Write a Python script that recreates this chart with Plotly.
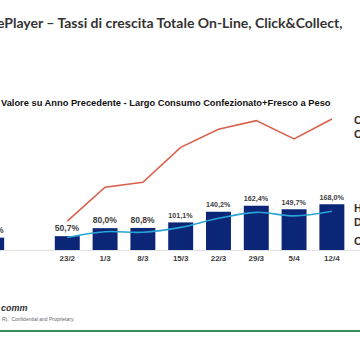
import plotly.graph_objects as go

categories = ["Total", " ", "23/2", "1/3", "8/3", "15/3", "22/3", "29/3", "5/4", "12/4"]
bar_values = [45.3, None, 50.7, 80.0, 80.8, 101.1, 140.2, 162.4, 149.7, 168.0]
click_collect = [None, None, 106, 230, 248, 376, 442, 474, 407, 480]
home_delivery = [None, None, 46, 67, 65, 83, 116, 138, 125, 142]

title_text = "ePlayer – Tassi di crescita Totale On-Line, Click&Collect,"
subtitle_text = "Valore su Anno Precedente - Largo Consumo Confezionato+Fresco a Peso"

W, H = 360, 360


def py(px):
    return 1 - px / H


def fmt(v):
    return "" if v is None else "<b>" + f"{v:.1f}".replace(".", ",") + "%</b>"


fig = go.Figure()
fig.add_trace(go.Bar(
    x=categories, y=bar_values,
    marker=dict(color="#0b2577", line=dict(width=0)),
    text=[fmt(v) for v in bar_values],
    textposition="outside",
    textfont=dict(family="Liberation Sans", size=9.3, color="#404040"),
    cliponaxis=True,
    hoverinfo="skip",
))
fig.add_trace(go.Scatter(
    x=categories, y=click_collect, mode="lines",
    line=dict(color="#d9604a", width=1.6),
    connectgaps=False, hoverinfo="skip",
))
fig.add_trace(go.Scatter(
    x=categories, y=home_delivery, mode="lines",
    line=dict(color="#2aa3d6", width=1.6, shape="spline", smoothing=1.0),
    connectgaps=False, hoverinfo="skip",
))

annotations = [
    dict(text="<b>" + title_text + "</b>", x=-5 / W, y=py(22), xref="paper", yref="paper",
         xanchor="left", yanchor="middle", showarrow=False,
         font=dict(family="Lato", size=14, color="#333333")),
    dict(text="<b>" + subtitle_text + "</b>", x=-1 / W, y=py(103), xref="paper", yref="paper",
         xanchor="left", yanchor="middle", showarrow=False,
         font=dict(family="Liberation Sans", size=9.3, color="#111111")),
    dict(text="<b>Total</b>", x=0, y=py(260), xref="x", yref="paper",
         xanchor="center", yanchor="middle", showarrow=False,
         font=dict(family="Liberation Sans", size=8, color="#404040")),
    dict(text="<b>Click &</b>", x=352 / W, y=py(120), xref="paper", yref="paper",
         xanchor="left", yanchor="middle", showarrow=False,
         font=dict(family="Liberation Sans", size=11, color="#333333")),
    dict(text="<b>Collect</b>", x=352 / W, y=py(134), xref="paper", yref="paper",
         xanchor="left", yanchor="middle", showarrow=False,
         font=dict(family="Liberation Sans", size=11, color="#333333")),
    dict(text="<b>Home</b>", x=352 / W, y=py(208), xref="paper", yref="paper",
         xanchor="left", yanchor="middle", showarrow=False,
         font=dict(family="Liberation Sans", size=11, color="#333333")),
    dict(text="<b>Delivery</b>", x=352 / W, y=py(222), xref="paper", yref="paper",
         xanchor="left", yanchor="middle", showarrow=False,
         font=dict(family="Liberation Sans", size=11, color="#333333")),
    dict(text="<b>On-Line</b>", x=352 / W, y=py(241), xref="paper", yref="paper",
         xanchor="left", yanchor="middle", showarrow=False,
         font=dict(family="Liberation Sans", size=11, color="#333333")),
    dict(text="<b><i>comm</i></b>", x=-1 / W, y=py(308), xref="paper", yref="paper",
         xanchor="left", yanchor="middle", showarrow=False,
         font=dict(family="Liberation Sans", size=9, color="#333333")),
    dict(text="R).  Confidential and Proprietary.", x=0, y=py(319), xref="paper", yref="paper",
         xanchor="left", yanchor="middle", showarrow=False,
         font=dict(family="Liberation Sans", size=5, color="#666666")),
]

fig.update_layout(
    width=W, height=H,
    margin=dict(l=0, r=0, t=0, b=0),
    paper_bgcolor="white", plot_bgcolor="white",
    showlegend=False,
    bargap=0.34,
    xaxis=dict(
        type="category", range=[0.22, 9.744], domain=[0, 1],
        showline=True, linecolor="#e3e3e3", linewidth=1,
        showgrid=False, zeroline=False, ticks="",
        tickvals=categories[2:], ticktext=["<b>" + c + "</b>" for c in categories[2:]],
        tickfont=dict(family="Liberation Sans", size=8, color="#404040"),
    ),
    yaxis=dict(
        range=[0, 549.5], domain=[py(250), py(100)],
        visible=False, showgrid=False, zeroline=False,
    ),
    annotations=annotations,
    shapes=[dict(type="line", xref="paper", yref="paper", x0=0, x1=1,
                 y0=py(331), y1=py(331), line=dict(color="#3d8b5c", width=2))],
)

fig.write_html("out.html", config={"displayModeBar": False, "staticPlot": True},
               post_script="document.body.style.margin='0';document.body.style.overflow='hidden';")
